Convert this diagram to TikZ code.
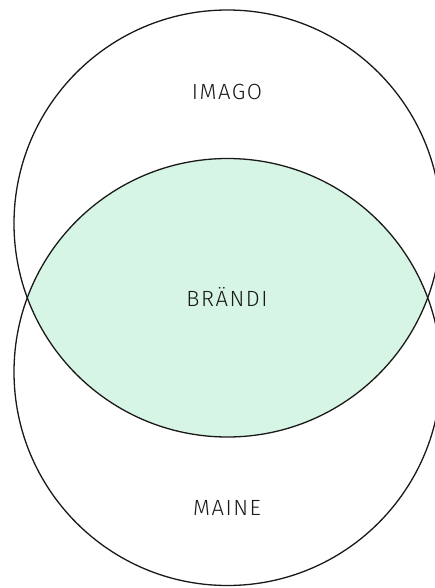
\documentclass[tikz,border=0pt]{standalone}
\usepackage{fontspec}
\setmainfont{Fira Sans Light}
\definecolor{lens}{RGB}{215,245,228}
\definecolor{ink}{RGB}{25,25,25}
\begin{document}
\begin{tikzpicture}[x=1pt,y=-1pt,
  ring/.style={draw=ink,line width=1.3pt},
  lbl/.style={font=\fontsize{22}{25}\selectfont\addfontfeatures{LetterSpace=7}, text=ink, inner sep=0pt}]
\useasboundingbox (0,0) rectangle (434,588);
\coordinate (ct) at (227.5,223.5);
\coordinate (cb) at (227.5,372);
\begin{scope}
  \clip (ct) circle[radius=213.5];
  \fill[lens] (cb) circle[radius=213.5];
\end{scope}
\draw[ring] (ct) circle[radius=213.5];
\draw[ring] (cb) circle[radius=213.5];
\node[lbl] (imago) at (227,92) {IMAGO};
\node[lbl] (brandi) at (227,297) {BRÄNDI};
\node[lbl] (maine) at (227,508) {MAINE};
\end{tikzpicture}
\end{document}
